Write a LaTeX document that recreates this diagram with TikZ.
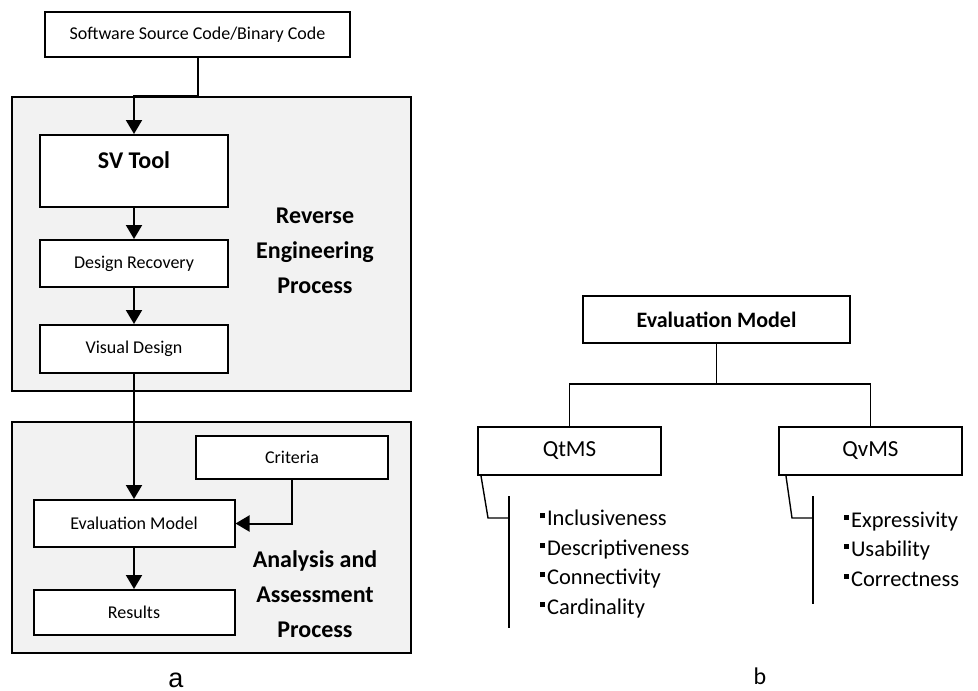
\documentclass[tikz,border=0pt]{standalone}
\usepackage{fontspec}
\setmainfont{Carlito}
\newfontfamily\arialfont{Liberation Sans}
\usetikzlibrary{arrows.meta,positioning}

\newcommand{\sqbullet}{\rule[7.5pt]{5pt}{5pt}\hspace{2.5pt}}

\begin{document}
\begin{tikzpicture}[
    x=1pt, y=-1pt,
    box/.style={rectangle, draw, line width=2pt, fill=white, inner sep=2pt, align=center, font=\fontsize{18pt}{22pt}\selectfont},
    panel/.style={rectangle, draw, line width=2pt, fill=gray!10},
    proc/.style={align=center, font=\fontsize{24pt}{35pt}\selectfont\bfseries},
    arrow/.style={-{Triangle[length=14pt,width=16pt]}, line width=2pt},
    tree/.style={line width=1.4pt},
    items/.style={anchor=west, align=left, font=\fontsize{22.5pt}{29.5pt}\selectfont},
    caption/.style={inner sep=0pt}
]
    \useasboundingbox (0,0) rectangle (978,691);

    % Panels
    \node[panel, minimum width=399pt, minimum height=294pt] (rev) at (211.5,244) {};
    \node[panel, minimum width=399pt, minimum height=231pt] (ana) at (211.5,537.5) {};

    % Input
    \node[box, minimum width=305pt, minimum height=45pt] (src) at (197.5,34.5) {Software Source Code/Binary Code};

    % Reverse engineering steps
    \node[box, minimum width=188pt, minimum height=72pt, text height=17pt, text depth=23pt,
          font=\fontsize{24pt}{28pt}\selectfont\bfseries] (svtool) at (134,171) {SV Tool};
    \node[box, minimum width=188pt, minimum height=47pt] (desrec) at (134,263.5) {Design Recovery};
    \node[box, minimum width=188pt, minimum height=48pt] (visdes) at (134,349) {Visual Design};
    \node[proc] (revlabel) at (315,251) {Reverse\\Engineering\\Process};

    % Analysis and assessment steps
    \node[box, minimum width=192pt, minimum height=43pt] (crit) at (292,457.5) {Criteria};
    \node[box, minimum width=201pt, minimum height=47pt] (evalm) at (134,523.5) {Evaluation Model};
    \node[box, minimum width=201pt, minimum height=45pt] (res) at (134,612.5) {Results};
    \node[proc] (analabel) at (315,594) {Analysis and\\Assessment\\Process};

    % Arrows
    \draw[arrow] (src.south) -- (src.south |- rev.north) -| (svtool.north);
    \draw[arrow] (svtool) -- (desrec);
    \draw[arrow] (desrec) -- (visdes);
    \draw[arrow] (visdes) -- (evalm);
    \draw[arrow] (crit.south) |- (evalm.east);
    \draw[arrow] (evalm) -- (res);

    % Evaluation model tree
    \node[box, minimum width=267pt, minimum height=47pt, font=\fontsize{22pt}{26pt}\selectfont\bfseries] (em) at (716.5,319.5) {Evaluation Model};
    \node[box, minimum width=183pt, minimum height=48pt, font=\fontsize{23pt}{27pt}\selectfont] (qt) at (569.5,451) {QtMS};
    \node[box, minimum width=183pt, minimum height=48pt, font=\fontsize{23pt}{27pt}\selectfont] (qv) at (870.5,451) {QvMS};
    \coordinate (fork) at (716.5,384);
    \draw[tree] (em.south) -- (fork);
    \draw[tree] (qt.north) |- (fork) -| (qv.north);

    % Sub-criteria
    \coordinate (qtbend) at (488,518);
    \coordinate (qttop) at (509,496);
    \coordinate (qtbot) at (509,628);
    \draw[tree] ([xshift=4pt]qt.south west) -- (qtbend) -- (qtbend -| qttop);
    \draw[tree] (qttop) -- (qtbot);
    \node[items] (qtlist) at (536,564) {\sqbullet Inclusiveness\\\sqbullet Descriptiveness\\\sqbullet Connectivity\\\sqbullet Cardinality};

    \coordinate (qvbend) at (792,518);
    \coordinate (qvtop) at (813,496);
    \coordinate (qvbot) at (813,604);
    \draw[tree] ([xshift=8pt]qv.south west) -- (qvbend) -- (qvbend -| qvtop);
    \draw[tree] (qvtop) -- (qvbot);
    \node[items] (qvlist) at (840,549) {\sqbullet Expressivity\\\sqbullet Usability\\\sqbullet Correctness};

    % Captions
    \node[caption, font=\arialfont\fontsize{27pt}{30pt}\selectfont] (capa) at (176,680) {a};
    \node[caption, font=\fontsize{24pt}{28pt}\selectfont] (capb) at (760,676) {b};
\end{tikzpicture}
\end{document}
